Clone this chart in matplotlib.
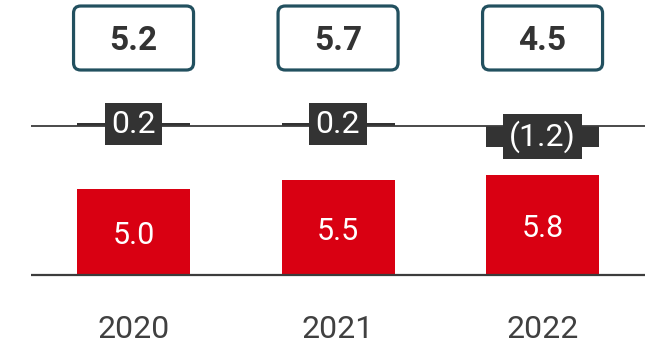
import matplotlib.pyplot as plt
from matplotlib.patches import FancyBboxPatch

# Chart data
years = ['2020', '2021', '2022']
base = [5.0, 5.5, 5.8]
adjust = [0.2, 0.2, -1.2]
adjust_labels = ['0.2', '0.2', '(1.2)']
totals = [5.2, 5.7, 4.5]

plt.rcParams['font.family'] = ['Roboto', 'DejaVu Sans']

red = '#d90012'
dark = '#333333'
teal = '#22505f'

fig = plt.figure(figsize=(6.53, 3.46), dpi=100)
ax = fig.add_axes([0, 0, 1, 1])
ax.set_xlim(-0.653, 2.540)
ax.set_ylim(-4.13, 15.99)
ax.axis('off')

x = list(range(len(years)))
width = 0.553
adj_line = 8.66    # baseline of the adjustment row
px = 1 / 17.2      # one pixel in y units

# Base bars
ax.bar(x, base, width=width, color=red, zorder=2)
ax.hlines(0, -0.5, 2.5, color='#3c3c3c', lw=1.6, zorder=3)
for xi, v in zip(x, base):
    ax.text(xi, v / 2 - 12 * px, f"{v:.1f}", ha='center', va='baseline',
            color='white', fontsize=22, zorder=4)

# Adjustment bars
ax.bar(x, adjust, width=width, bottom=adj_line, color=dark, zorder=2)
ax.hlines(adj_line, -0.5, 2.5, color='#3c3c3c', lw=1.3, zorder=3)
for xi, v, lab in zip(x, adjust, adjust_labels):
    ax.text(xi, adj_line + v / 2, lab, ha='center', va='center',
            color='white', fontsize=23, zorder=5,
            bbox=dict(boxstyle='square,pad=0.2', fc=dark, ec='none'))

# Total boxes
box_w = 120 / 204.5
box_h = 64 * px
box_y = 13.78
for xi, t in zip(x, totals):
    ax.add_patch(FancyBboxPatch((xi - box_w / 2, box_y - box_h / 2), box_w, box_h,
                                boxstyle='round,pad=0,rounding_size=0.035',
                                mutation_aspect=204.5 / 17.2,
                                fc='white', ec=teal, lw=2.3, zorder=3))
    ax.text(xi, box_y - 12 * px, f"{t:.1f}", ha='center', va='baseline',
            color=dark, fontsize=24, fontweight='bold', zorder=4)

# Year labels
for xi, y in zip(x, years):
    ax.text(xi, -3.66, y, ha='center', va='baseline', color='#404040',
            fontsize=23)

plt.savefig('out.png', dpi=100)
